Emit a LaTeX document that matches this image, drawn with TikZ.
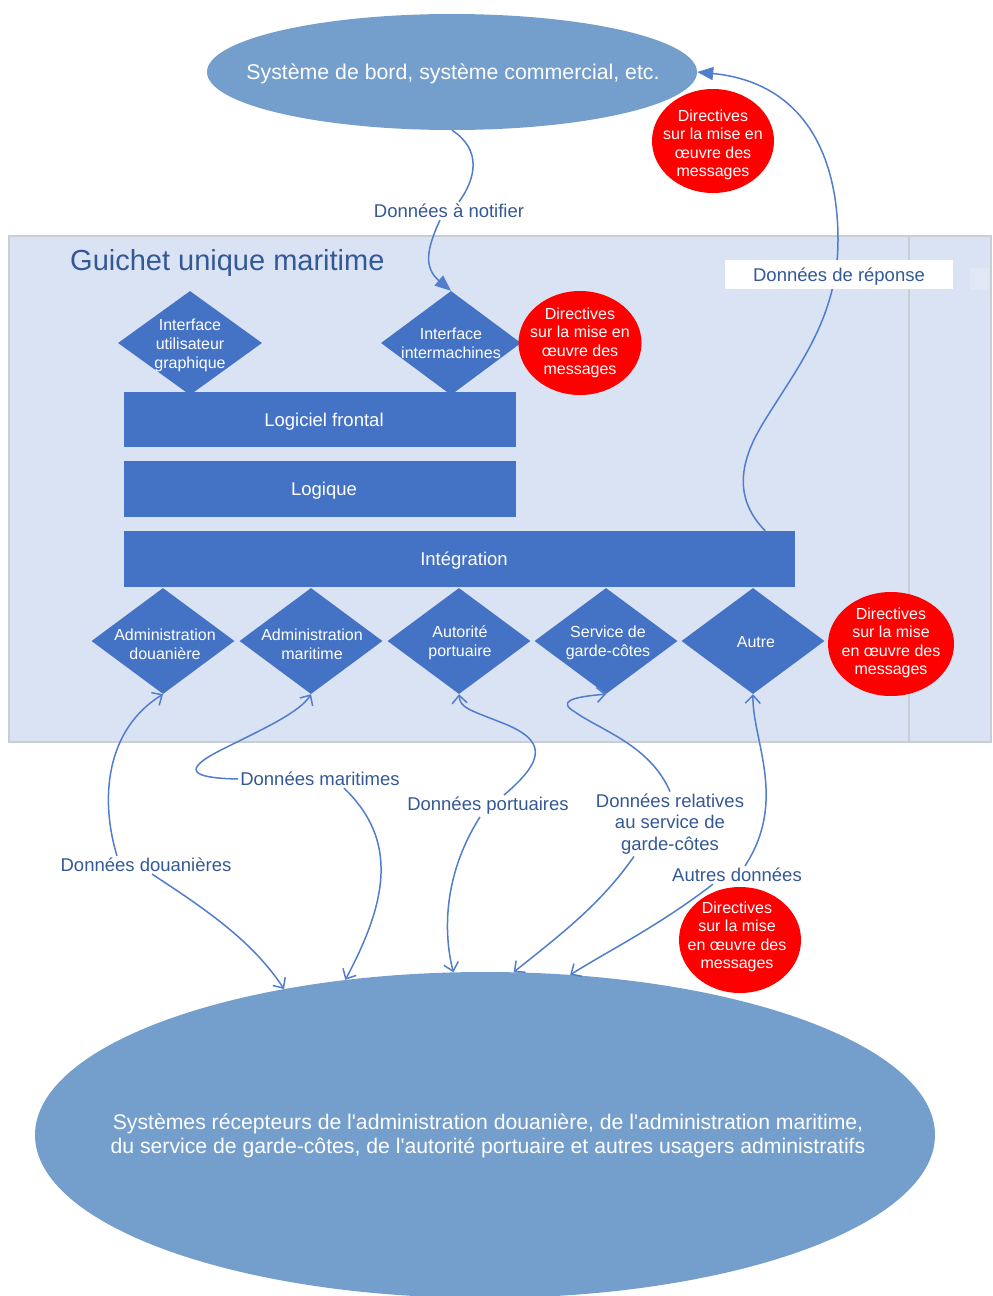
\documentclass[tikz,border=0pt]{standalone}
\usepackage{fontspec}
\setmainfont{Liberation Sans}[Ligatures=TeXOff]
\usetikzlibrary{shapes.geometric,arrows.meta}

\definecolor{ellblue}{RGB}{116,159,204}
\definecolor{boxblue}{RGB}{68,114,196}
\definecolor{panelfill}{RGB}{218,227,243}
\definecolor{panelline}{RGB}{200,205,214}
\definecolor{labblue}{RGB}{52,88,150}
\definecolor{linkblue}{RGB}{80,125,205}
\definecolor{alertred}{RGB}{255,0,0}

\tikzset{
  ell/.style={ellipse, fill=ellblue, draw=none, inner sep=0pt},
  elltext/.style={text=white, align=center, inner sep=0pt},
  bar/.style={rectangle, fill=boxblue, draw=none, text=white, inner sep=0pt,
    text height=13.4pt, text depth=0pt, font=\fontsize{18.5}{21}\selectfont},
  dia/.style={diamond, fill=boxblue, draw=none, inner sep=0pt,
    minimum width=143pt, minimum height=106pt},
  diatext/.style={text=white, align=center, inner sep=0pt,
    font=\fontsize{16}{19}\selectfont},
  redspot/.style={ellipse, fill=alertred, draw=none, inner sep=0pt},
  redtext/.style={text=white, align=center, inner sep=0pt,
    font=\fontsize{16}{18.5}\selectfont},
  flowlabel/.style={text=labblue, align=center, inner sep=2pt,
    font=\fontsize{18.5}{21.5}\selectfont},
  link/.style={draw=linkblue, line width=1.5pt},
  openhead/.style={link, -{Straight Barb[length=8pt,width=15pt]}},
  solidhead/.style={link, -{Triangle[length=16pt,width=13pt]}},
}

\begin{document}
\begin{tikzpicture}[x=1pt,y=-1pt]
\useasboundingbox (0,0) rectangle (993,1296);

% maritime single window panel
\node[rectangle, fill=panelfill, draw=panelline, line width=2pt, inner sep=0pt,
      minimum width=982pt, minimum height=506pt] (gum) at (500,489) {};
\draw[panelline, line width=1.5pt] (909,236) -- (909,742);
\fill[fill={rgb,255:red,224;green,231;blue,245}] (970,268) rectangle (989,290);
\node[text=labblue, anchor=west, inner sep=0pt, font=\fontsize{29}{33}\selectfont]
  (title) at (70,263) {Guichet unique maritime};

% external systems
\node[ell, minimum width=490pt, minimum height=116pt] (top) at (452,72) {};
\node[elltext, font=\fontsize{21.3}{24}\selectfont] (toptext) at (453,74)
  {Système de bord, système commercial, etc.};
\node[ell, minimum width=900pt, minimum height=326pt] (bot) at (485,1135) {};
\node[elltext, font=\fontsize{21.2}{24}\selectfont] (bottext) at (488,1136)
  {Systèmes récepteurs de l'administration douanière, de l'administration maritime,\\
   du service de garde-côtes, de l'autorité portuaire et autres usagers administratifs};

% layers
\node[bar, minimum width=392pt, minimum height=55pt] (lf) at (320,419.5)
  {\hspace*{8pt}Logiciel frontal};
\node[bar, minimum width=392pt, minimum height=56pt] (lq) at (320,489)
  {\hspace*{8pt}Logique};
\node[bar, minimum width=671pt, minimum height=56pt] (integ) at (459.5,559)
  {\hspace*{9pt}Intégration};

% interfaces
\node[dia, minimum width=144pt, minimum height=104pt] (iug) at (190,343) {};
\node[diatext] (iugtext) at (190,345.5) {Interface\\utilisateur\\graphique};
\node[dia, minimum width=140pt, minimum height=104pt] (iim) at (451,343) {};
\node[diatext] (iimtext) at (451,343.5) {Interface\\intermachines};

% administrations
\node[dia] (d1) at (163,641) {};
\node[diatext] (d1text) at (165,644) {Administration\\douanière};
\node[dia] (d2) at (311,641) {};
\node[diatext] (d2text) at (312,644) {Administration\\maritime};
\node[dia] (d3) at (459,641) {};
\node[diatext] (d3text) at (460,642.5) {Autorité\\portuaire};
\node[dia] (d4) at (606,641) {};
\node[diatext] (d4text) at (608,643) {Service de\\garde-côtes};
\node[dia] (d5) at (753,641) {};
\node[diatext] (d5text) at (756,642) {Autre};

% flow labels
\node[flowlabel] (notif) at (449,211) {Données à notifier};
\node[flowlabel] (ldou) at (146,865) {Données douanières};
\node[flowlabel] (lmar) at (320,779) {Données maritimes};
\node[flowlabel] (lport) at (488,806) {Données portuaires};
\node[flowlabel] (lgc) at (670,824) {Données relatives\\au service de\\garde-côtes};
\node[flowlabel] (laut) at (737,875) {Autres données};

% notification data
\draw[link] (top.south) .. controls (482,150) and (476,178) .. ([xshift=10pt]notif.north);
\draw[solidhead] ([xshift=-9pt]notif.south) .. controls (426,250) and (424,268) .. (iim.north);

% response data
\draw[solidhead] ([xshift=-30pt]integ.north east) .. controls (735,500) and (738,465) .. (762,425)
  .. controls (795,370) and (838,320) .. (838,240)
  .. controls (838,150) and (800,82) .. (top.east);
\node[flowlabel, fill=white, minimum width=228pt, minimum height=29pt,
      text height=13.5pt, text depth=0pt] (rep) at (839,274.5)
  {Données de réponse};

% customs data
\draw[openhead] ([xshift=-29pt]ldou.north) .. controls (100,800) and (105,730) .. (d1.south);
\draw[openhead] ([xshift=6pt]ldou.south) .. controls (215,915) and (255,945) .. (bot.144);

% maritime data
\draw[openhead] (lmar.west) .. controls (190,778) and (180,770) .. (225,748)
  .. controls (265,728) and (300,712) .. (d2.south);
\draw[openhead] ([xshift=24pt]lmar.south) .. controls (398,840) and (388,900) .. (bot.132);

% port data
\draw[openhead] ([xshift=16pt]lport.north) .. controls (545,760) and (548,740) .. (500,722)
  .. controls (470,710) and (460,708) .. (d3.south);
\draw[openhead] ([xshift=-8pt]lport.south) .. controls (440,880) and (445,940) .. (bot.101.5);

% coast guard data
\draw[openhead] (lgc.north) .. controls (650,745) and (600,730) .. (575,712)
  .. controls (558,702) and (570,697) .. (d4.south);
\draw[openhead] ([xshift=-36pt]lgc.south) .. controls (600,905) and (560,935) .. (bot.80.7);

% other data
\draw[openhead] ([xshift=8pt]laut.north) .. controls (788,800) and (752,740) .. (d5.south);
\draw[openhead] ([xshift=-24pt]laut.south) .. controls (660,925) and (610,950) .. (bot.62.6);

% message implementation guidelines
\node[redspot, minimum width=122pt, minimum height=104pt] (r1) at (713,141) {};
\node[redtext] (r1text) at (713,145) {Directives\\sur la mise en\\œuvre des\\messages};
\node[redspot, minimum width=123pt, minimum height=104pt] (r2) at (580,343) {};
\node[redtext] (r2text) at (580,343) {Directives\\sur la mise en\\œuvre des\\messages};
\node[redspot, minimum width=126pt, minimum height=104pt] (r3) at (891,644) {};
\node[redtext] (r3text) at (891,643) {Directives\\sur la mise\\en œuvre des\\messages};
\node[redspot, minimum width=122pt, minimum height=106pt] (r4) at (740,940) {};
\node[redtext] (r4text) at (737,937) {Directives\\sur la mise\\en œuvre des\\messages};
\end{tikzpicture}
\end{document}
